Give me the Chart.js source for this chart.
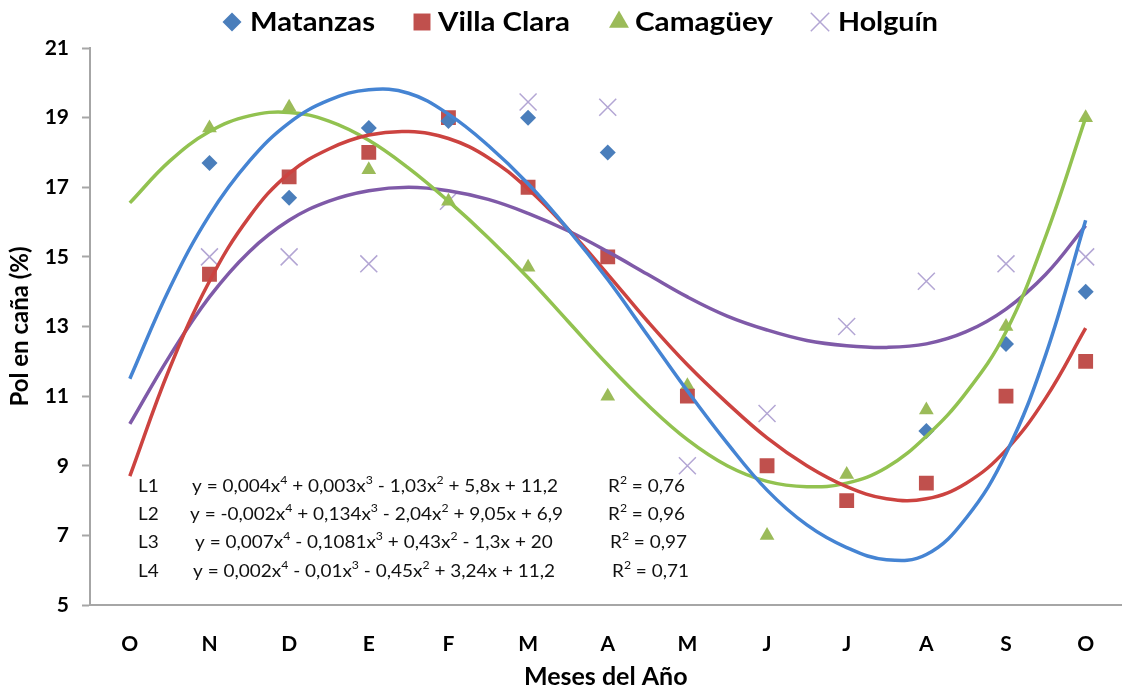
<!DOCTYPE html>
<html>
<head>
<meta charset="utf-8">
<script src="https://cdn.jsdelivr.net/npm/chart.js@4.4.1/dist/chart.umd.min.js"></script>
<style>
  html, body { margin: 0; padding: 0; background: #fff; }
  #wrap { width: 1135px; height: 695px; }
</style>
</head>
<body>
<div id="wrap"><canvas id="chart" width="1135" height="695"></canvas></div>
<script>
// categorias del eje X (meses, de octubre a octubre)
const meses = ['O', 'N', 'D', 'E', 'F', 'M', 'A', 'M', 'J', 'J', 'A', 'S', 'O'];

// valores observados de pol en caña (%) por mes
const matanzas = [null, 17.7, 16.7, 18.7, 18.9, 19.0, 18.0, null, null, null, 10.0, 12.5, 14.0];
const villaClara = [null, 14.5, 17.3, 18.0, 19.0, 17.0, 15.0, 11.0, 9.0, 8.0, 8.5, 11.0, 12.0];
const camaguey = [null, 18.7, 19.3, 17.5, 16.6, 14.7, 11.0, 11.3, 7.0, 8.75, 10.6, 13.0, 19.0];
const holguin = [null, 15.0, 15.0, 14.8, 16.6, 19.45, 19.3, 9.0, 10.5, 13.0, 14.3, 14.8, 15.0];

// lineas de tendencia, cada medio mes
const trendX = [0, 0.5, 1, 1.5, 2, 2.5, 3, 3.5, 4, 4.5, 5, 5.5, 6, 6.5, 7, 7.5, 8, 8.5, 9, 9.5, 10, 10.5, 11, 11.5, 12];
const trendL1 = [11.5, 14.1, 16.2, 17.75, 18.85, 19.5, 19.8, 19.7, 19.1, 18.2, 17.1, 15.8, 14.35, 12.75, 11.15, 9.65, 8.3, 7.3, 6.65, 6.3, 6.45, 7.5, 9.35, 12.2, 16.05];
const trendL2 = [8.7, 11.8, 14.3, 16.15, 17.4, 18.1, 18.5, 18.6, 18.4, 17.85, 16.95, 15.8, 14.5, 13.15, 11.9, 10.8, 9.8, 9.0, 8.4, 8.05, 8.05, 8.5, 9.45, 10.95, 12.95];
const trendL3 = [16.55, 17.75, 18.6, 19.05, 19.15, 18.9, 18.35, 17.55, 16.6, 15.55, 14.4, 13.15, 11.9, 10.75, 9.75, 9.0, 8.55, 8.4, 8.5, 8.95, 9.85, 11.1, 12.85, 15.6, 19.0];
const trendL4 = [10.2, 12.15, 13.85, 15.15, 16.05, 16.6, 16.9, 17.0, 16.9, 16.65, 16.25, 15.75, 15.15, 14.5, 13.85, 13.3, 12.9, 12.6, 12.45, 12.4, 12.5, 12.85, 13.5, 14.5, 15.9];

// ecuaciones mostradas en el grafico
const eqNames = ['L1', 'L2', 'L3', 'L4'];
const eqTexts = [
  'y = 0,004x^4 + 0,003x^3 - 1,03x^2 + 5,8x + 11,2',
  'y = -0,002x^4 + 0,134x^3 - 2,04x^2 + 9,05x + 6,9',
  'y = 0,007x^4 - 0,1081x^3 + 0,43x^2 - 1,3x + 20',
  'y = 0,002x^4 - 0,01x^3 - 0,45x^2 + 3,24x + 11,2',
];
const eqR2 = ['R^2 = 0,76', 'R^2 = 0,96', 'R^2 = 0,97', 'R^2 = 0,71'];

const FONT = 'Lato, "Open Sans", sans-serif';

const points = (vals) => vals.map((v, i) => ({ x: i, y: v })).filter((p) => p.y !== null);
const curve = (vals) => vals.map((v, i) => ({ x: trendX[i], y: v }));

function markerSet(label, vals, style, radius, legendRadius, fill, stroke, bw) {
  return {
    label, data: points(vals), pointStyle: style, pointRadius: radius, legendRadius,
    backgroundColor: fill, borderColor: stroke, borderWidth: bw,
    showLine: false, order: 2, isMarker: true,
  };
}
function trendSet(label, vals, color) {
  return {
    label, data: curve(vals), showLine: true, pointRadius: 0, borderColor: color,
    borderWidth: 3.5, tension: 0.4, fill: false, order: 1,
  };
}

// texto con superindices ("^n"), devuelve el ancho
function drawSup(ctx, str, x, y, size, measureOnly) {
  let cx = x;
  for (const p of str.split(/(\^\d)/)) {
    if (!p) continue;
    const sup = p[0] === '^';
    const t = sup ? p.slice(1) : p;
    ctx.font = `${sup ? Math.round(size * 0.62) : size}px ${FONT}`;
    if (!measureOnly) ctx.fillText(t, cx, sup ? y - size * 0.36 : y);
    cx += ctx.measureText(t).width;
  }
  return cx - x;
}

// texto estirado en horizontal para que ocupe el ancho del original
function stretchText(ctx, x, y, sx, draw) {
  ctx.save();
  ctx.translate(x, y);
  ctx.scale(sx, 1);
  draw(0, 0);
  ctx.restore();
}

const extras = {
  id: 'extras',
  afterDraw(chart) {
    const ctx = chart.ctx;
    ctx.save();
    ctx.textBaseline = 'middle';
    ctx.textAlign = 'left';

    // leyenda
    const legX = [232, 422, 619, 820];
    const legText = [[250, 375], [438, 570], [635, 773], [838, 938]];
    chart.data.datasets.filter((d) => d.isMarker).forEach((d, i) => {
      ctx.fillStyle = d.backgroundColor;
      ctx.strokeStyle = d.borderColor;
      ctx.lineWidth = d.borderWidth;
      Chart.helpers.drawPoint(ctx, { pointStyle: d.pointStyle, radius: d.legendRadius, rotation: 0, borderWidth: d.borderWidth }, legX[i], 22);
      ctx.fillStyle = '#000';
      ctx.font = `bold 27px ${FONT}`;
      const [a, b] = legText[i];
      const sx = (b - a) / ctx.measureText(d.label).width;
      stretchText(ctx, a, 22, sx, (x, y) => ctx.fillText(d.label, x, y));
    });

    // ecuaciones
    const size = 17;
    const rowY = [487, 515, 543, 572];
    const eqX = [192, 190, 195, 193];
    const r2X = [608, 608, 610, 612];
    const sx = (558 - 192) / drawSup(ctx, eqTexts[0], 0, 0, size, true);
    ctx.fillStyle = '#111';
    eqNames.forEach((n, i) => {
      stretchText(ctx, 138, rowY[i], sx, (x, y) => { ctx.font = `${size}px ${FONT}`; ctx.fillText(n, x, y); });
      stretchText(ctx, eqX[i], rowY[i], sx, (x, y) => drawSup(ctx, eqTexts[i], x, y, size));
      stretchText(ctx, r2X[i], rowY[i], sx, (x, y) => drawSup(ctx, eqR2[i], x, y, size));
    });
    ctx.restore();
  },
};

const tickFont = { family: FONT, size: 21, weight: 'bold' };

new Chart(document.getElementById('chart'), {
  type: 'scatter',
  data: {
    datasets: [
      markerSet('Matanzas', matanzas, 'rectRot', 8, 9.5, '#4a7ebb', '#4a7ebb', 0),
      markerSet('Villa Clara', villaClara, 'rect', 10.5, 12, '#c0504d', '#c0504d', 0),
      markerSet('Camagüey', camaguey, 'triangle', 8.5, 11.5, '#9bbb59', '#9bbb59', 0),
      markerSet('Holguín', holguin, 'crossRot', 12, 13, '#b3a6d4', '#b3a6d4', 1.5),
      trendSet('L1', trendL1, '#4584d3'),
      trendSet('L2', trendL2, '#cc4340'),
      trendSet('L3', trendL3, '#92c250'),
      trendSet('L4', trendL4, '#7f5aa8'),
    ],
  },
  options: {
    responsive: false,
    animation: false,
    layout: { padding: { top: 48, right: 0, bottom: 0, left: 0 } },
    plugins: { legend: { display: false }, tooltip: { enabled: false } },
    scales: {
      x: {
        type: 'linear', min: -0.5, max: 12.45,
        afterBuildTicks: (s) => { s.ticks = meses.map((m, i) => ({ value: i })); },
        afterFit: (s) => { s.height = 90; },
        ticks: { callback: (v) => meses[v], font: tickFont, color: '#000', padding: 19, autoSkip: false, maxRotation: 0 },
        grid: { display: false },
        border: { color: '#a6a6a6', width: 2 },
        title: { display: true, text: 'Meses del Año', font: { family: FONT, size: 25, weight: 'bold' }, color: '#000', padding: { bottom: 3 } },
      },
      y: {
        min: 5, max: 21,
        ticks: { stepSize: 2, font: tickFont, color: '#000', padding: 13 },
        afterFit: (s) => { s.width = 90; },
        grid: { drawOnChartArea: false, tickLength: 8, color: '#a6a6a6', tickWidth: 2 },
        border: { color: '#a6a6a6', width: 2 },
        title: { display: true, text: 'Pol en caña (%)', font: { family: FONT, size: 24, weight: 'bold' }, color: '#000', padding: { top: 6 } },
      },
    },
  },
  plugins: [extras],
});
</script>
</body>
</html>
